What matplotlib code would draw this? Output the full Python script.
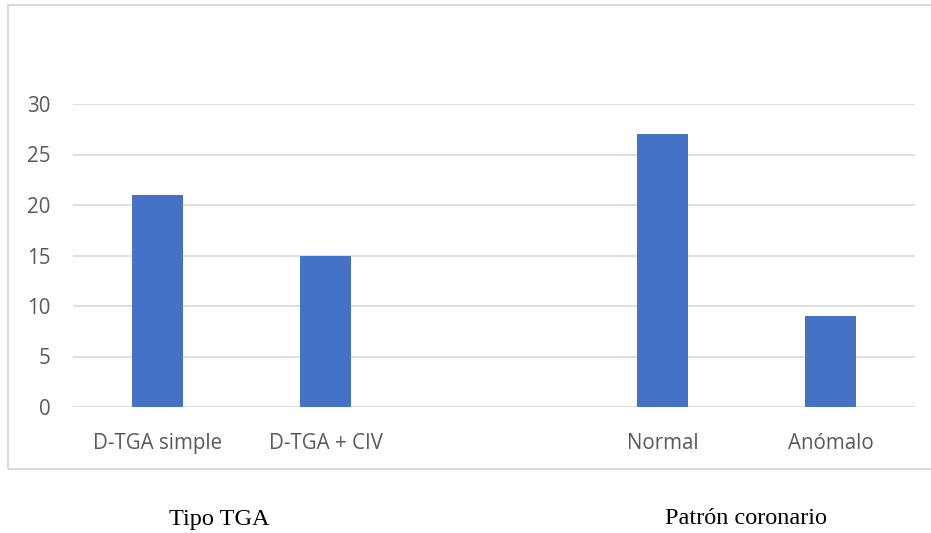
import matplotlib.pyplot as plt
import numpy as np
from matplotlib.patches import Rectangle

# datos
categorias = ["D-TGA simple", "D-TGA + CIV", "", "Normal", "Anómalo"]
valores = [21, 15, np.nan, 27, 9]
grupos = ["Tipo TGA", "Patrón coronario"]
grupos_x = [219, 746]  # centro de cada rótulo de grupo, en píxeles
yticks = [0, 5, 10, 15, 20, 25, 30]

W, H = 931, 533
fig = plt.figure(figsize=(W / 100, H / 100), dpi=100)

# marco del gráfico
fig.patches.append(Rectangle((8 / W, 1 - 469 / H), 940 / W, 464 / H,
                             transform=fig.transFigure, fill=False,
                             edgecolor="#d9d9d9", linewidth=1.5))

ax = fig.add_axes([73 / W, 1 - 407 / H, 842 / W, 303 / H])
x = np.arange(len(categorias))
ax.bar(x, valores, width=0.305, color="#4472C4", zorder=3)

ax.set_xlim(-0.5, len(categorias) - 0.5)
ax.set_ylim(0, 30)
ax.set_yticks(yticks)
ax.set_xticks(x)
ax.set_xticklabels(categorias)
for s in ax.spines.values():
    s.set_visible(False)
ax.grid(axis="y", color="#d9d9d9", linewidth=1.2, zorder=0)
ax.tick_params(length=0, labelsize=14.8, labelcolor="#595959")
ax.tick_params(axis="x", pad=19)
ax.tick_params(axis="y", pad=16)
for lbl in ax.get_xticklabels() + ax.get_yticklabels():
    lbl.set_fontfamily("Open Sans")

for g, gx in zip(grupos, grupos_x):
    fig.text(gx / W, 1 - 519 / H, g, ha="center", va="center",
             fontsize=17.5, family="Liberation Serif", color="black")

fig.savefig("out.png", dpi=100)
